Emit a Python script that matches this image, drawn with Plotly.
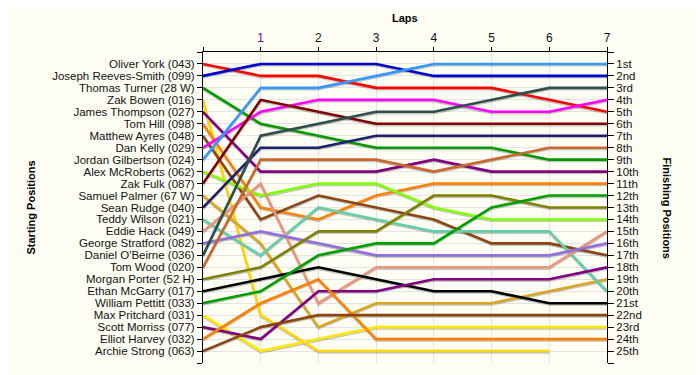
import plotly.graph_objects as go

laps = [0, 1, 2, 3, 4, 5, 6, 7]

drivers = [
    "Oliver York (043)", "Joseph Reeves-Smith (099)", "Thomas Turner (28 W)",
    "Zak Bowen (016)", "James Thompson (027)", "Tom Hill (098)",
    "Matthew Ayres (048)", "Dan Kelly (029)", "Jordan Gilbertson (024)",
    "Alex McRoberts (062)", "Zak Fulk (087)", "Samuel Palmer (67 W)",
    "Sean Rudge (040)", "Teddy Wilson (021)", "Eddie Hack (049)",
    "George Stratford (082)", "Daniel O'Beirne (036)", "Tom Wood (020)",
    "Morgan Porter (52 H)", "Ethan McGarry (017)", "William Pettitt (033)",
    "Max Pritchard (031)", "Scott Morriss (077)", "Elliot Harvey (032)",
    "Archie Strong (063)",
]

# positions of each driver (same order as drivers) at each lap
pos_lap0 = [1, 2, 3, 4, 5, 6, 7, 8, 9, 10, 11, 12, 13, 14, 15, 16, 17, 18, 19, 20, 21, 22, 23, 24, 25]
pos_lap1 = [2, 1, 6, 22, 10, 13, 14, 5, 3, 12, 4, 16, 8, 17, 11, 15, 7, 9, 18, 19, 20, 25, 24, 21, 23]
pos_lap2 = [2, 1, 7, 25, 10, 14, 12, 4, 3, 11, 5, 23, 8, 13, 21, 16, 6, 9, 15, 18, 17, 24, 20, 19, 22]
pos_lap3 = [3, 1, 8, 25, 10, 12, 13, 4, 2, 11, 6, 21, 7, 14, 18, 17, 5, 9, 15, 19, 16, 23, 20, 24, 22]
pos_lap4 = [3, 2, 8, 25, 9, 11, 14, 4, 1, 13, 6, 21, 7, 15, 18, 17, 5, 10, 12, 20, 16, 23, 19, 24, 22]
pos_lap5 = [3, 2, 8, 25, 10, 11, 16, 5, 1, 14, 6, 21, 7, 15, 18, 17, 4, 9, 12, 20, 13, 23, 19, 24, 22]
pos_lap6 = [4, 2, 9, 25, 10, 11, 16, 5, 1, 14, 6, 20, 7, 15, 18, 17, 3, 8, 13, 21, 12, 23, 19, 24, 22]
pos_lap7 = [5, 2, 9, None, 10, 11, 17, 4, 1, 14, 6, 19, 7, 20, 15, 16, 3, 8, 13, 21, 12, 23, 18, 24, 22]

finish_labels = [
    "1st", "2nd", "3rd", "4th", "5th", "6th", "7th", "8th", "9th", "10th",
    "11th", "12th", "13th", "14th", "15th", "16th", "17th", "18th", "19th",
    "20th", "21st", "22nd", "23rd", "24th", "25th",
]

lap_labels = ["", "<span style='color:#800080'>1</span>", "2", "3", "4", "5", "6", "7"]

colors = [
    "#FF0000", "#0000CC", "#009900", "#FFD700", "#800080", "#FF8000",
    "#8B4513", "#FF00FF", "#3399FF", "#80FF00", "#800000", "#DAA520",
    "#1F1F70", "#66CDAA", "#E9967A", "#9370DB", "#2F4F4F", "#C8682E",
    "#808000", "#000000", "#00A000", "#FFE800", "#800080", "#FF8000",
    "#8B4513",
]

columns = [pos_lap0, pos_lap1, pos_lap2, pos_lap3, pos_lap4, pos_lap5, pos_lap6, pos_lap7]

fig = go.Figure()

FONT = "Liberation Sans, Arial, sans-serif"
shadow_offset = 0.11

for i, name in enumerate(drivers):
    xs, ys = [], []
    for lap, col in zip(laps, columns):
        if col[i] is not None:
            xs.append(lap)
            ys.append(col[i])
    fig.add_trace(go.Scatter(
        x=xs, y=[v + shadow_offset for v in ys], mode="lines",
        line=dict(color="rgba(0,0,0,0.22)", width=2.6),
        hoverinfo="skip", showlegend=False, yaxis="y",
    ))

for i, name in enumerate(drivers):
    xs, ys = [], []
    for lap, col in zip(laps, columns):
        if col[i] is not None:
            xs.append(lap)
            ys.append(col[i])
    fig.add_trace(go.Scatter(
        x=xs, y=ys, mode="lines", name=name,
        line=dict(color=colors[i], width=2.6),
        showlegend=False, yaxis="y2",
    ))

left_vals = [0] + pos_lap0 + [26]
left_text = [""] + drivers + [""]
right_vals = [0] + list(range(1, len(finish_labels) + 1)) + [26]
right_text = [""] + finish_labels + [""]

axis_font = dict(family=FONT, size=11.5, color="#111111")

# page body has an 8px margin, so the figure is sized to fit inside the window
fig.update_layout(
    width=692, height=367,
    margin=dict(l=195, r=93, t=44, b=12),
    paper_bgcolor="#FFFEF4",
    plot_bgcolor="#FFFEF4",
    font=dict(family=FONT, size=12, color="#111111"),
    xaxis=dict(
        side="top", range=[0, 7], tickmode="array", tickvals=laps, ticktext=lap_labels,
        ticks="outside", ticklen=4, tickcolor="black", showline=True, linecolor="black",
        linewidth=1, showgrid=True, gridcolor="#E4E4E4", gridwidth=1, zeroline=False,
        tickfont=dict(family=FONT, size=12, color="#111111"), fixedrange=True,
    ),
    yaxis=dict(
        range=[26, 0], tickmode="array", tickvals=left_vals, ticktext=left_text,
        ticks="outside", ticklen=5, tickcolor="black", showline=True, linecolor="black",
        linewidth=1, showgrid=True, gridcolor="#E4E4E4", gridwidth=1, zeroline=False,
        tickfont=axis_font, fixedrange=True,
    ),
    yaxis2=dict(
        range=[26, 0], overlaying="y", side="right", tickmode="array",
        tickvals=right_vals, ticktext=right_text,
        ticks="outside", ticklen=6, tickcolor="black", showline=True, linecolor="black",
        linewidth=1, showgrid=False, zeroline=False, tickfont=axis_font, fixedrange=True,
    ),
    annotations=[
        dict(text="<b>Laps</b>", xref="paper", yref="paper", x=0.5, y=1 + (52 - 18) / 311,
             showarrow=False, xanchor="center", yanchor="middle",
             font=dict(family=FONT, size=11, color="black")),
        dict(text="<b>Starting Positions</b>", xref="paper", yref="paper",
             x=(30 - 203) / 404, y=0.5, textangle=-90, showarrow=False,
             xanchor="center", yanchor="middle",
             font=dict(family=FONT, size=11, color="black")),
        dict(text="<b>Finishing Positions</b>", xref="paper", yref="paper",
             x=(667 - 203) / 404, y=0.5, textangle=90, showarrow=False,
             xanchor="center", yanchor="middle",
             font=dict(family=FONT, size=11, color="black")),
    ],
)

fig.write_html("out.html")
